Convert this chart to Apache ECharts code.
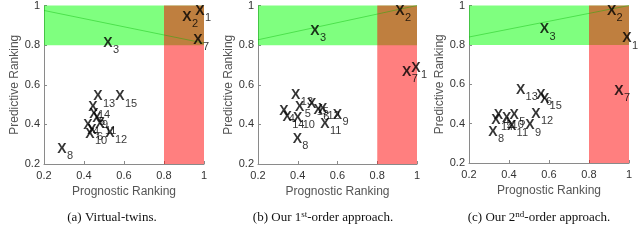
<!DOCTYPE html>
<html>
<head>
<meta charset="utf-8">
<script src="https://cdn.jsdelivr.net/npm/echarts@6/dist/echarts.min.js"></script>
<style>html,body{margin:0;padding:0;background:#fff}#c{width:640px;height:243px}</style>
</head>
<body>
<div id="c"></div>
<script>
// ---- data ----
const varIds = [1,2,3,4,5,6,7,8,9,10,11,12,13,14,15];
const tickValues = [0.2, 0.4, 0.6, 0.8, 1];
const threshold = 0.8;
// (a) Virtual-twins
const vtProg = [0.98,0.915,0.52,0.42,0.45,0.44,0.97,0.29,0.465,0.43,0.48,0.53,0.47,0.445,0.58];
const vtPred = [0.97,0.94,0.81,0.395,0.45,0.37,0.825,0.275,0.43,0.35,0.40,0.355,0.54,0.485,0.54];
const vtLine = [[0.2,0.975],[1,0.81]];
// (b) 1st-order
const firstProg = [0.995,0.914,0.487,0.33,0.41,0.503,0.948,0.398,0.60,0.40,0.537,0.525,0.39,0.347,0.47];
const firstPred = [0.683,0.97,0.87,0.465,0.487,0.474,0.663,0.324,0.446,0.43,0.40,0.478,0.55,0.434,0.50];
const firstLine = [[0.2,0.827],[1,1.0]];
// (c) 2nd-order
const secondProg = [0.99,0.913,0.577,0.347,0.426,0.56,0.95,0.32,0.505,0.388,0.413,0.535,0.458,0.335,0.578];
const secondPred = [0.832,0.973,0.878,0.443,0.445,0.546,0.567,0.357,0.39,0.43,0.386,0.45,0.571,0.42,0.525];
const secondLine = [[0.2,0.84],[1,1.0]];
const captions = ['(a) Virtual-twins.', '(b) Our 1{sup|st}-order approach.', '(c) Our 2{sup|nd}-order approach.'];

const panels = [
  {prog: vtProg, pred: vtPred, line: vtLine, grid: {left: 44, top: 5, width: 160, height: 159}, cap: 112},
  {prog: firstProg, pred: firstPred, line: firstLine, grid: {left: 258, top: 4.5, width: 159, height: 159.5}, cap: 323},
  {prog: secondProg, pred: secondPred, line: secondLine, grid: {left: 469, top: 4, width: 160, height: 159}, cap: 539}
];

const sans = 'Liberation Sans, Arial, Helvetica, sans-serif';
const fmt = v => (Math.abs(v - 1) < 1e-9 ? '1' : v.toFixed(1));

const grids = [], xAxes = [], yAxes = [], series = [], graphics = [];
panels.forEach((p, i) => {
  grids.push(Object.assign({containLabel: false}, p.grid));
  const axisCommon = {
    min: tickValues[0], max: tickValues[tickValues.length - 1], interval: 0.2,
    gridIndex: i,
    axisLine: {show: true, lineStyle: {color: '#8a8a8a', width: 1}},
    axisTick: {show: true, inside: true, length: 3, lineStyle: {color: '#8a8a8a'}},
    splitLine: {show: false},
    axisLabel: {formatter: fmt, color: '#333', fontSize: 11, fontFamily: sans},
    nameLocation: 'middle',
    nameTextStyle: {color: '#555', fontSize: 12, fontFamily: sans}
  };
  xAxes.push(Object.assign({}, axisCommon, {type: 'value', name: 'Prognostic Ranking', nameGap: 22,
    axisLabel: Object.assign({}, axisCommon.axisLabel, {margin: 6})}));
  yAxes.push(Object.assign({}, axisCommon, {type: 'value', name: 'Predictive Ranking', nameGap: 21,
    axisLabel: Object.assign({}, axisCommon.axisLabel, {margin: 4})}));

  const pts = varIds.map((id, k) => [p.prog[k], p.pred[k], id]);

  // shaded regions
  series.push({
    type: 'line', xAxisIndex: i, yAxisIndex: i, data: [], z: 1, silent: true,
    markArea: {
      silent: true,
      data: [
        [{xAxis: tickValues[0], yAxis: threshold, itemStyle: {color: 'rgba(0,255,0,0.5)'}}, {xAxis: 1, yAxis: 1}],
        [{xAxis: threshold, yAxis: tickValues[0], itemStyle: {color: 'rgba(255,0,0,0.5)'}}, {xAxis: 1, yAxis: 1}]
      ]
    }
  });
  // thin line
  series.push({
    type: 'line', xAxisIndex: i, yAxisIndex: i, data: p.line, z: 2, symbol: 'none', silent: true,
    lineStyle: {color: 'rgba(0,180,0,0.4)', width: 1}
  });
  // X glyphs
  series.push({
    type: 'scatter', xAxisIndex: i, yAxisIndex: i, data: pts, z: 3, symbolSize: 1,
    itemStyle: {color: 'rgba(0,0,0,0)'},
    label: {show: true, position: 'inside', formatter: 'X', color: '#000', fontSize: 14,
      fontWeight: 'bold', fontFamily: sans, align: 'center', verticalAlign: 'middle'}
  });
  // subscripts
  series.push({
    type: 'scatter', xAxisIndex: i, yAxisIndex: i, data: pts, z: 4, symbolSize: 1,
    itemStyle: {color: 'rgba(0,0,0,0)'},
    label: {show: true, position: 'inside', formatter: q => String(q.value[2]), color: '#000',
      fontSize: 11, fontFamily: sans, align: 'left', verticalAlign: 'middle', offset: [5, 7]}
  });

  graphics.push({
    type: 'text', x: p.cap, y: 218,
    style: {
      text: captions[i], align: 'center', verticalAlign: 'middle',
      fontFamily: 'Liberation Serif, Times New Roman, serif', fontSize: 13, fill: '#111',
      rich: {sup: {fontSize: 9, verticalAlign: 'top', fontFamily: 'Liberation Serif, serif', padding: [0,0,6,0]}}
    }
  });
});

const chart = echarts.init(document.getElementById('c'), null, {renderer: 'canvas'});
chart.setOption({
  animation: false,
  grid: grids, xAxis: xAxes, yAxis: yAxes, series: series, graphic: graphics
});
</script>
</body>
</html>
